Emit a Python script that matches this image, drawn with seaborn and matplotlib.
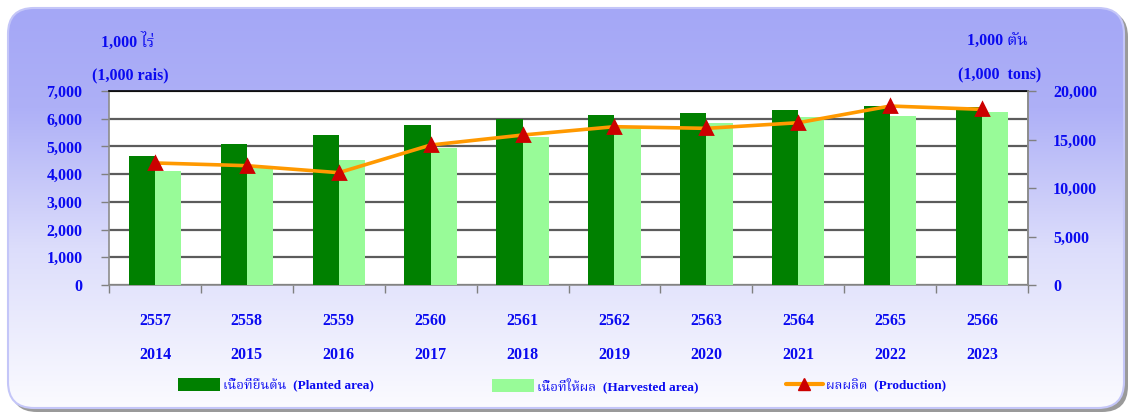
import numpy as np
import pandas as pd
import matplotlib
matplotlib.use("Agg")
import matplotlib.pyplot as plt
import seaborn as sns
from matplotlib import font_manager
from matplotlib.ft2font import FT2Font
from matplotlib.patches import FancyBboxPatch, Patch
from matplotlib.lines import Line2D
from matplotlib.colors import LinearSegmentedColormap

# data
years_be = ["2557", "2558", "2559", "2560", "2561", "2562", "2563", "2564", "2565", "2566"]
years_ce = ["2014", "2015", "2016", "2017", "2018", "2019", "2020", "2021", "2022", "2023"]
planted = [4660, 5090, 5410, 5780, 5980, 6120, 6200, 6320, 6470, 6430]
harvested = [4110, 4250, 4510, 4940, 5330, 5690, 5860, 6060, 6110, 6230]
production = [12580, 12300, 11580, 14430, 15460, 16320, 16150, 16730, 18450, 18110]

label_planted = "เนื้อที่ยืนต้น  (Planted area)"
label_harvested = "เนื้อที่ให้ผล  (Harvested area)"
label_prod = "ผลผลิต  (Production)"

DARK = "#008000"
LIGHT = "#98FB98"
ORANGE = "#FF9900"
RED = "#CC0000"
BLUE = "#0A0AF0"


def find_thai_font():
    preferred = ["Noto Serif Thai", "Noto Sans Thai", "Norasi", "Garuda", "Loma",
                 "Kinnari", "Tlwg Typo", "FreeSerif", "FreeSans", "DejaVu Sans", "Noto Sans"]
    found = {}
    for f in font_manager.fontManager.ttflist:
        try:
            cmap = FT2Font(f.fname).get_charmap()
        except Exception:
            continue
        if 0x0E44 in cmap and 0x0E37 in cmap:
            found.setdefault(f.name, f.fname)
    for name in preferred:
        if name in found:
            return name
    return next(iter(found), "DejaVu Sans")


sns.set_theme(style="white")
thai = find_thai_font()
plt.rcParams["font.family"] = ["Liberation Serif", thai]
plt.rcParams["font.weight"] = "bold"

W, H = 1135, 417
fig = plt.figure(figsize=(W / 100, H / 100), dpi=100)
fig.patch.set_facecolor("white")

# rounded gradient background
bg = fig.add_axes([0, 0, 1, 1], zorder=-10)
bg.set_xlim(0, W)
bg.set_ylim(H, 0)
bg.axis("off")
shadow = FancyBboxPatch((11, 11), 1117, 401, boxstyle="round,pad=0,rounding_size=26",
                        facecolor="#9a9a9a", edgecolor="none", zorder=0)
bg.add_patch(shadow)
box = FancyBboxPatch((8, 8), 1116, 400, boxstyle="round,pad=0,rounding_size=26",
                     facecolor="none", edgecolor="#c4c6f8", linewidth=1.5, zorder=2)
bg.add_patch(box)
cmap = LinearSegmentedColormap.from_list(
    "bg", [(0.0, "#a4a7f6"), (0.25, "#aeb0f7"), (0.6, "#dcddfb"), (1.0, "#fbfbff")])
grad = np.linspace(0, 1, 256).reshape(-1, 1)
im = bg.imshow(grad, cmap=cmap, aspect="auto", extent=(8, 1124, 408, 8), zorder=1)
im.set_clip_path(box)

# main axes
ax = fig.add_axes([109 / W, 1 - 285 / H, 919 / W, 194 / H])
ax.set_facecolor("white")

long = pd.DataFrame({
    "be": years_be * 2,
    "value": planted + harvested,
    "series": [label_planted] * 10 + [label_harvested] * 10,
})
sns.barplot(data=long, x="be", y="value", hue="series", palette=[DARK, LIGHT],
            width=0.57, gap=0, saturation=1, ax=ax, legend=False, zorder=3,
            edgecolor="none", linewidth=0)

ax2 = ax.twinx()
prod_df = pd.DataFrame({"be": years_be, "production": production})
sns.pointplot(data=prod_df, x="be", y="production", ax=ax2, color=ORANGE,
              markers="^", linestyles="-", errorbar=None)
for ln in ax2.lines:
    ln.set_linewidth(2.6)
    ln.set_markersize(9)
    ln.set_markerfacecolor(RED)
    ln.set_markeredgecolor(RED)

ax.set_xlim(-0.5, 9.5)
ax.set_ylim(0, 7000)
ax2.set_ylim(0, 20000)
ax.set_yticks(range(0, 7001, 1000))
ax2.set_yticks(range(0, 20001, 5000))
ax.yaxis.set_major_formatter(matplotlib.ticker.StrMethodFormatter("{x:,.0f}"))
ax2.yaxis.set_major_formatter(matplotlib.ticker.StrMethodFormatter("{x:,.0f}"))

ax.set_xticks(range(10))
ax.set_xticklabels([f"{b}\n{c}" for b, c in zip(years_be, years_ce)], linespacing=2.5)
ax.set_xticks(np.arange(-0.5, 10, 1), minor=True)
ax.tick_params(axis="x", which="major", length=0, pad=20, labelsize=11.5, labelcolor=BLUE)
ax.tick_params(axis="x", which="minor", length=6, width=1, color="#808080", direction="out",
               bottom=True)
ax.tick_params(axis="y", length=6, width=1, color="#808080", direction="out", pad=13,
               labelsize=11.5, labelcolor=BLUE, left=True)
ax2.tick_params(axis="y", length=6, width=1, color="#808080", direction="out", pad=12,
                labelsize=11.5, labelcolor=BLUE, right=True)
ax.set_xlabel("")
ax.set_ylabel("")
ax2.set_xlabel("")
ax2.set_ylabel("")

ax.yaxis.grid(True, color="#5c5c5c", linewidth=1.6, zorder=0)
ax.set_axisbelow(True)
for name, sp in ax.spines.items():
    sp.set_visible(True)
    sp.set_color("#8c8c8c")
    sp.set_linewidth(1.2)
ax.spines["top"].set_color("black")
for sp in ax2.spines.values():
    sp.set_visible(False)
ax2.spines["right"].set_visible(True)
ax2.spines["right"].set_color("#8c8c8c")
ax2.spines["right"].set_linewidth(1.2)

# unit labels
fig.text(128 / W, 1 - 42 / H, "1,000 ไร่", ha="center", va="center", fontsize=11.5, color=BLUE)
fig.text(130 / W, 1 - 75 / H, "(1,000 rais)", ha="center", va="center", fontsize=11.5, color=BLUE)
fig.text(997 / W, 1 - 42 / H, "1,000 ตัน", ha="center", va="center", fontsize=11.5, color=BLUE)
fig.text(1000 / W, 1 - 75 / H, "(1,000  tons)", ha="center", va="center", fontsize=11.5, color=BLUE)

# legend, three entries spread across the bottom
entries = [
    (178, Patch(facecolor=DARK, edgecolor="none"), label_planted, 3.2),
    (492, Patch(facecolor=LIGHT, edgecolor="none"), label_harvested, 3.2),
    (786, Line2D([], [], color=ORANGE, linewidth=3, marker="^", markersize=9,
                 markerfacecolor=RED, markeredgecolor=RED), label_prod, 2.8),
]
for x0, handle, text, hl in entries:
    leg = fig.legend([handle], [text], loc="center left",
                     bbox_to_anchor=(x0 / W, 1 - 385 / H), frameon=False,
                     borderpad=0, borderaxespad=0, handlelength=hl, handleheight=1.1,
                     handletextpad=0.2, prop={"size": 9.5, "weight": "bold"})
    for t in leg.get_texts():
        t.set_color(BLUE)

fig.savefig("out.png", dpi=100)
